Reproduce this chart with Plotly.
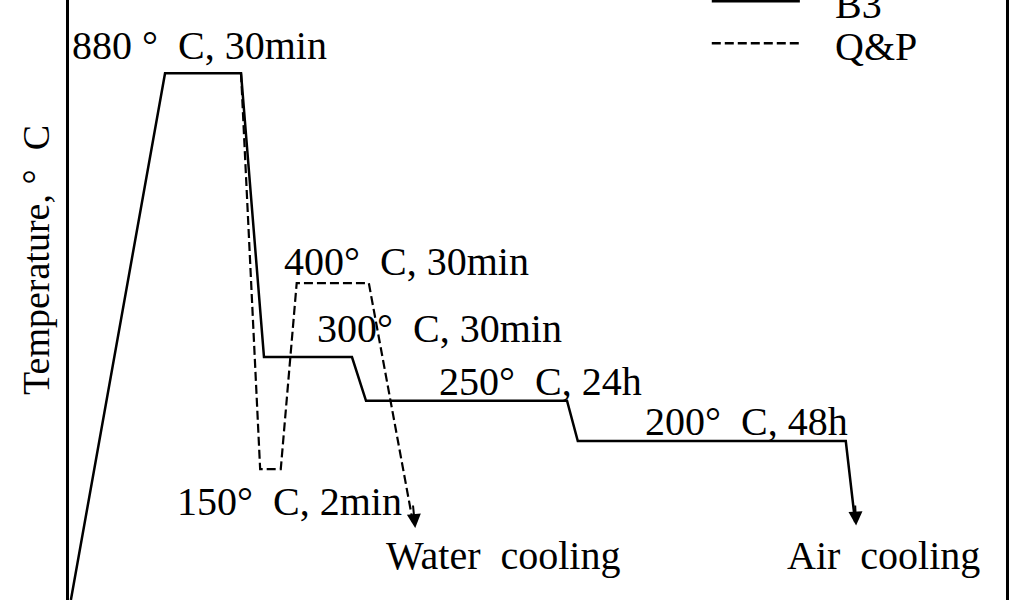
import plotly.graph_objects as go

# Schematic heat-treatment routes (arbitrary time units, schematic temperature units)
b3_time = [0.2, 10.25, 18.36, 20.81, 30.2, 31.7, 53.15, 54.3, 82.9, 83.9]
b3_temp = [0.0, 87.8, 87.8, 40.5, 40.5, 33.2, 33.2, 26.5, 26.5, 13.0]

qp_time = [18.36, 20.4, 22.6, 24.3, 32.0, 36.7]
qp_temp = [87.8, 21.8, 21.8, 52.8, 52.8, 13.0]

arrow_tips = {"B3": (84.0, 12.4), "Q&P": (36.95, 12.0)}

stage_labels = ["880 °  C, 30min", "400°  C, 30min", "300°  C, 30min",
                "250°  C, 24h", "200°  C, 48h", "150°  C, 2min",
                "Water  cooling", "Air  cooling"]
label_x = [0.1, 22.74, 26.26, 39.3, 61.3, 11.3, 33.6, 76.4]
label_y = [92.5, 56.4, 45.3, 36.5, 29.7, 16.5, 7.4, 7.4]

legend_names = ["B3", "Q&P"]
legend_dash = ["solid", "9px,4px"]
legend_y = [99.8, 92.8]

FONT = "Liberation Serif, Times New Roman, serif"

fig = go.Figure()
fig.add_trace(go.Scatter(x=b3_time, y=b3_temp, mode="lines",
                         line=dict(color="black", width=2.5), cliponaxis=False,
                         showlegend=False))
fig.add_trace(go.Scatter(x=qp_time, y=qp_temp, mode="lines",
                         line=dict(color="black", width=2.2, dash="9px,4px"),
                         cliponaxis=False, showlegend=False))

# arrowheads
for (sx, sy), (tx, ty) in [((b3_time[-1], b3_temp[-1]), arrow_tips["B3"]),
                           ((qp_time[-1], qp_temp[-1]), arrow_tips["Q&P"])]:
    fig.add_annotation(x=tx, y=ty, ax=sx, ay=sy + 3, xref="x", yref="y",
                       axref="x", ayref="y", text="", showarrow=True,
                       arrowhead=2, arrowsize=1.4, arrowwidth=2, arrowcolor="black")

# manual legend
for name, dash, ly in zip(legend_names, legend_dash, legend_y):
    fig.add_trace(go.Scatter(x=[68.6, 78.0], y=[ly, ly], mode="lines",
                             line=dict(color="black", width=2.5, dash=dash),
                             cliponaxis=False, showlegend=False))
    fig.add_annotation(x=81.5, y=ly - 0.6, xref="x", yref="y", text=name,
                       showarrow=False, xanchor="left", yanchor="middle",
                       font=dict(family=FONT, size=40, color="black"))

for t, lx, ly in zip(stage_labels, label_x, label_y):
    fig.add_annotation(x=lx, y=ly, xref="x", yref="y", text=t, showarrow=False,
                       xanchor="left", yanchor="middle",
                       font=dict(family=FONT, size=40, color="black"))

fig.add_annotation(x=-0.035, y=0.567, xref="paper", yref="paper",
                   text="Temperature, °  C", textangle=-90, showarrow=False,
                   xanchor="center", yanchor="middle",
                   font=dict(family=FONT, size=38, color="black"))

fig.update_layout(
    width=1024, height=600,
    margin=dict(l=69, r=18, t=0, b=0),
    paper_bgcolor="white", plot_bgcolor="white",
    xaxis=dict(range=[0, 100], showgrid=False, zeroline=False, showline=False,
               showticklabels=False, ticks=""),
    yaxis=dict(range=[0, 100], showgrid=False, zeroline=False, showline=True,
               mirror=True, linecolor="black", linewidth=2.5,
               showticklabels=False, ticks=""),
)

fig.write_html("out.html", config={"displayModeBar": False},
               post_script="document.body.style.margin='0px';document.body.style.overflow='hidden';")
